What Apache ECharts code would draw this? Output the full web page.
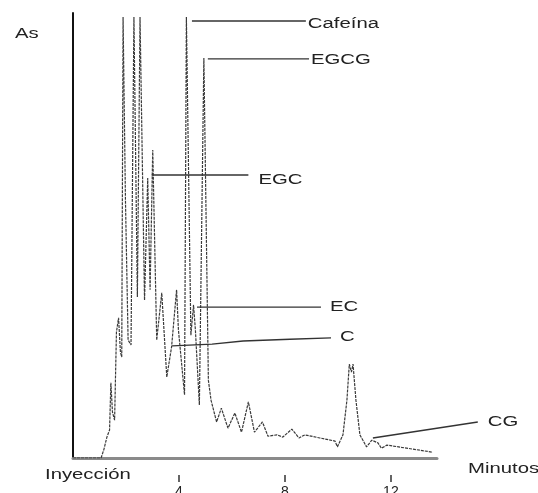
<!DOCTYPE html>
<html><head><meta charset="utf-8">
<script src="https://cdn.jsdelivr.net/npm/echarts@6/dist/echarts.min.js"></script>
<style>html,body{margin:0;padding:0;background:#fff;overflow:hidden}#c{width:538px;height:493px}</style>
</head><body><div id="c"></div>
<script>
// Retention time (min)
const timeMin = [0, 1.06, 1.17, 1.28, 1.38, 1.43, 1.49, 1.57, 1.64, 1.72, 1.79, 1.84, 1.89, 1.93, 1.98, 2.08, 2.19, 2.30, 2.34, 2.43, 2.53, 2.57, 2.70, 2.82, 2.91, 3.01, 3.16, 3.35, 3.54, 3.72, 3.91, 3.98, 4.21, 4.28, 4.32, 4.45, 4.55, 4.62, 4.77, 4.94, 5.11, 5.21, 5.42, 5.60, 5.85, 6.11, 6.36, 6.62, 6.85, 7.15, 7.36, 7.70, 7.92, 8.26, 8.53, 8.75, 9.32, 9.89, 9.98, 10.19, 10.34, 10.43, 10.51, 10.57, 10.68, 10.83, 10.98, 11.08, 11.28, 11.51, 11.64, 11.85, 13.58];
// Absorbance (relative units)
const absorbance = [0, 0, 2.0, 4.7, 6.3, 16.9, 10.3, 8.5, 28.3, 31.5, 23.8, 22.7, 99.1, 99.1, 58, 26.5, 25.4, 99.1, 99.1, 36.2, 99.1, 99.1, 35.5, 62.9, 37.8, 69.2, 26.5, 37.1, 18.2, 24.9, 37.8, 28.8, 14.2, 99.1, 99.1, 27.6, 34.4, 28.8, 11.9, 89.9, 17.5, 13.0, 8.1, 11.2, 6.7, 10.1, 5.8, 12.6, 5.8, 8.1, 4.9, 5.2, 4.7, 6.5, 4.5, 5.2, 4.5, 3.8, 2.5, 5.2, 13.0, 21.1, 19.3, 21.1, 13.0, 5.2, 3.6, 2.5, 4.0, 3.4, 2.2, 2.9, 1.3];
const tickValues = [4, 8, 12];
const peakNames = ['Cafeína', 'EGCG', 'EGC', 'EC', 'C', 'CG'];
const leaderT = [[4.49, 8.79], [5.09, 8.91], [2.97, 6.62], [4.68, 9.36], [3.74, 5.25, 6.42, 8.19, 9.74], [11.32, 15.28]];
const leaderA = [[98.2, 98.2], [89.7, 89.7], [63.6, 63.6], [33.9, 33.9], [25.2, 25.6, 26.3, 26.7, 27.0], [4.5, 8.1]];
// label offsets (px) from leader end
const labelDx = [2, 2, 10, 9, 9, 10];
const labelDy = [3, 1, 5, 0, -1, 0];

const X_MAX = 13.74;
const FONT = '14px "Liberation Sans", Arial, sans-serif';
const chart = echarts.init(document.getElementById('c'), null, {renderer: 'canvas'});

chart.setOption({
  animation: false,
  backgroundColor: '#fff',
  grid: {left: 73, right: 101, top: 13, bottom: 35, outerBoundsMode: 'none', containLabel: false},
  xAxis: [{
    type: 'value', min: 0, max: X_MAX,
    axisLine: {show: true, lineStyle: {color: '#8a8a8a', width: 3}},
    axisTick: {show: false}, axisLabel: {show: false}, splitLine: {show: false}
  }, {
    type: 'value', min: 0, max: X_MAX, position: 'bottom', offset: 17,
    axisLine: {show: false},
    axisTick: {show: true, customValues: tickValues, length: 7, lineStyle: {color: '#333', width: 1.5}},
    axisLabel: {show: true, customValues: tickValues, margin: 10, fontSize: 14, color: '#222', fontFamily: '"Liberation Sans", Arial, sans-serif'},
    splitLine: {show: false}
  }],
  yAxis: {
    type: 'value', min: 0, max: 100,
    axisLine: {show: true, lineStyle: {color: '#111', width: 2}},
    axisTick: {show: false}, axisLabel: {show: false}, splitLine: {show: false}
  },
  series: [{
    type: 'line',
    data: timeMin.map((t, i) => [t, absorbance[i]]),
    symbol: 'none',
    lineStyle: {color: '#3a3a3a', width: 1.2, type: [3, 1]},
    z: 3
  }]
});

const graphics = [
  {type: 'text', x: 15, y: 34, scaleX: 1.45, style: {text: 'As', font: FONT, fill: '#222', textVerticalAlign: 'middle'}},
  {type: 'text', x: 45, y: 475, scaleX: 1.45, style: {text: 'Inyección', font: FONT, fill: '#222', textVerticalAlign: 'middle'}},
  {type: 'text', x: 468, y: 469, scaleX: 1.45, style: {text: 'Minutos', font: FONT, fill: '#222', textVerticalAlign: 'middle'}}
];
peakNames.forEach((n, k) => {
  const pts = leaderT[k].map((t, i) => chart.convertToPixel({seriesIndex: 0}, [t, leaderA[k][i]]));
  graphics.push({type: 'polyline', shape: {points: pts}, z: 10,
    style: {stroke: '#333', lineWidth: 1.4, fill: null}});
  const p = pts[pts.length - 1];
  graphics.push({type: 'text', x: p[0] + labelDx[k], y: p[1] + labelDy[k], scaleX: 1.45, z: 10,
    style: {text: n, font: FONT, fill: '#222', textVerticalAlign: 'middle'}});
});
chart.setOption({graphic: graphics});
</script>
</body></html>
